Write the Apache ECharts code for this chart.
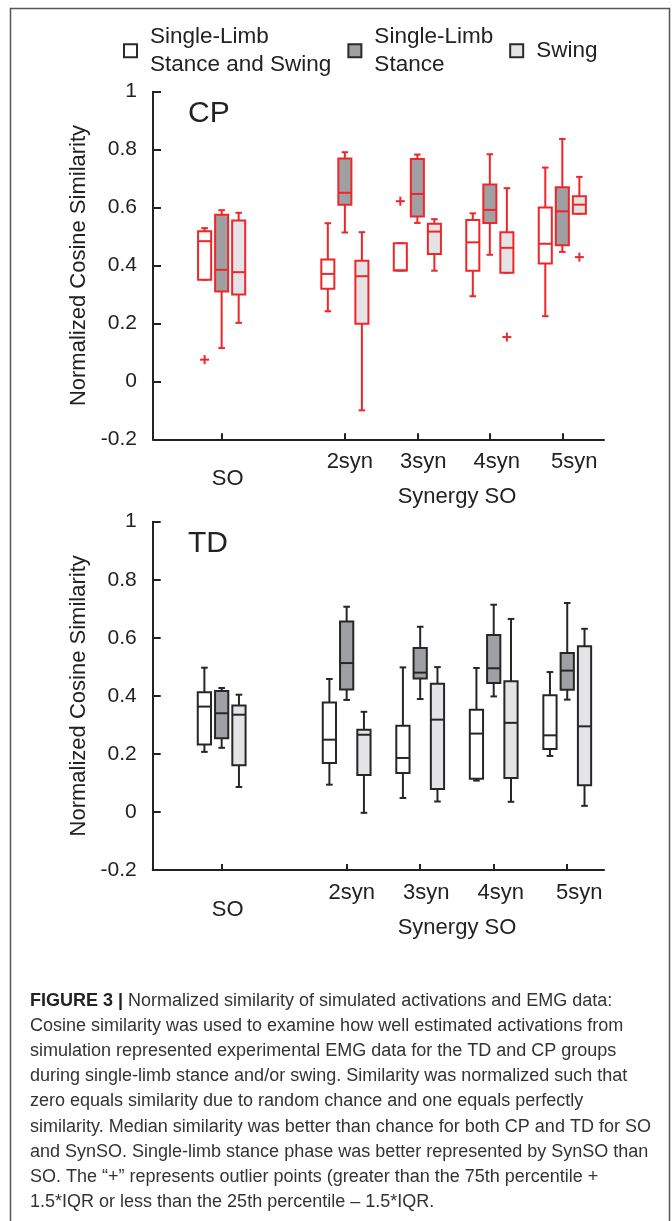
<!DOCTYPE html>
<html>
<head>
<meta charset="utf-8">
<script src="https://cdn.jsdelivr.net/npm/echarts@6.0.0/dist/echarts.min.js"></script>
<style>
  html, body { margin: 0; padding: 0; background: #fff; }
  #chart { width: 672px; height: 1221px; }
</style>
</head>
<body>
<div id="chart"></div>
<script>
// groups on the x axis and where they sit
const groups = ['SO', '2syn', '3syn', '4syn', '5syn'];
const groupPos = [1, 2.7, 3.7, 4.7, 5.7];
const phases = ['Single-Limb\nStance and Swing', 'Single-Limb\nStance', 'Swing'];

// each row: [lower whisker, Q1, median, Q3, upper whisker]
const cpStanceSwing = [
  [0.351, 0.351, 0.484, 0.518, 0.529],
  [0.242, 0.320, 0.371, 0.421, 0.546],
  [0.383, 0.383, 0.383, 0.477, 0.477],
  [0.294, 0.382, 0.480, 0.557, 0.580],
  [0.225, 0.407, 0.475, 0.600, 0.738]
];
const cpStance = [
  [0.115, 0.310, 0.385, 0.575, 0.591],
  [0.514, 0.610, 0.651, 0.769, 0.791],
  [0.547, 0.569, 0.647, 0.768, 0.783],
  [0.437, 0.547, 0.592, 0.680, 0.784],
  [0.447, 0.470, 0.587, 0.670, 0.837]
];
const cpSwing = [
  [0.202, 0.300, 0.377, 0.555, 0.582],
  [-0.100, 0.199, 0.363, 0.416, 0.515],
  [0.382, 0.440, 0.517, 0.544, 0.560],
  [0.375, 0.375, 0.461, 0.515, 0.667],
  [0.579, 0.579, 0.610, 0.639, 0.706]
];
// outliers: [group index, phase index, value]
const cpOutliers = [[0, 0, 0.075], [2, 0, 0.622], [3, 2, 0.153], [4, 2, 0.429]];

const tdStanceSwing = [
  [0.207, 0.232, 0.363, 0.412, 0.497],
  [0.094, 0.169, 0.249, 0.377, 0.458],
  [0.048, 0.134, 0.186, 0.297, 0.498],
  [0.108, 0.114, 0.270, 0.352, 0.496],
  [0.193, 0.217, 0.264, 0.402, 0.482]
];
const tdStance = [
  [0.221, 0.254, 0.340, 0.417, 0.427],
  [0.386, 0.422, 0.513, 0.656, 0.707],
  [0.389, 0.460, 0.480, 0.565, 0.638],
  [0.398, 0.444, 0.495, 0.610, 0.714],
  [0.387, 0.421, 0.487, 0.548, 0.720]
];
const tdSwing = [
  [0.086, 0.161, 0.335, 0.367, 0.404],
  [-0.003, 0.127, 0.266, 0.283, 0.345],
  [0.036, 0.079, 0.318, 0.442, 0.499],
  [0.035, 0.117, 0.307, 0.450, 0.665],
  [0.021, 0.092, 0.295, 0.571, 0.631]
];
const tdOutliers = [];

const captionLines = [
  '{b|FIGURE 3 |} Normalized similarity of simulated activations and EMG data:',
  'Cosine similarity was used to examine how well estimated activations from',
  'simulation represented experimental EMG data for the TD and CP groups',
  'during single-limb stance and/or swing. Similarity was normalized such that',
  'zero equals similarity due to random chance and one equals perfectly',
  'similarity. Median similarity was better than chance for both CP and TD for SO',
  'and SynSO. Single-limb stance phase was better represented by SynSO than',
  'SO. The \u201c+\u201d represents outlier points (greater than the 75th percentile +',
  '1.5*IQR or less than the 25th percentile \u2013 1.5*IQR.'
];

// look
const FONT = '"Liberation Sans", Arial, Helvetica, sans-serif';
const INK = '#222';
const panelStroke = ['#ee2629', '#262626'];
const phaseFill = ['#ffffff', '#9ea0a4', '#e4e4e6'];
const phaseOffset = [-0.235, 0, 0.235];
const BOX_HALF = 0.09;
const CAP_HALF = 0.045;
const labelShift = [6, 5, 6, 7, 12];

const chart = echarts.init(document.getElementById('chart'));

const makeBoxRenderer = (stroke, fill) => (params, api) => {
  const x = api.value(0);
  const lo = api.coord([x, api.value(1)]);
  const q1 = api.coord([x, api.value(2)]);
  const md = api.coord([x, api.value(3)]);
  const q3 = api.coord([x, api.value(4)]);
  const hi = api.coord([x, api.value(5)]);
  const left = api.coord([x - BOX_HALF, 0])[0];
  const right = api.coord([x + BOX_HALF, 0])[0];
  const capL = api.coord([x - CAP_HALF, 0])[0];
  const capR = api.coord([x + CAP_HALF, 0])[0];
  const ls = { stroke, lineWidth: 2, fill: null };
  return {
    type: 'group',
    children: [
      { type: 'line', shape: { x1: lo[0], y1: lo[1], x2: q1[0], y2: q1[1] }, style: ls },
      { type: 'line', shape: { x1: q3[0], y1: q3[1], x2: hi[0], y2: hi[1] }, style: ls },
      { type: 'line', shape: { x1: capL, y1: lo[1], x2: capR, y2: lo[1] }, style: ls },
      { type: 'line', shape: { x1: capL, y1: hi[1], x2: capR, y2: hi[1] }, style: ls },
      { type: 'rect', shape: { x: left, y: q3[1], width: right - left, height: q1[1] - q3[1] },
        style: { stroke, lineWidth: 2, fill } },
      { type: 'line', shape: { x1: left, y1: md[1], x2: right, y2: md[1] }, style: ls }
    ]
  };
};

const makePlusRenderer = (stroke) => (params, api) => {
  const p = api.coord([api.value(0), api.value(1)]);
  const r = 4.5;
  const ls = { stroke, lineWidth: 2 };
  return {
    type: 'group',
    children: [
      { type: 'line', shape: { x1: p[0] - r, y1: p[1], x2: p[0] + r, y2: p[1] }, style: ls },
      { type: 'line', shape: { x1: p[0], y1: p[1] - r, x2: p[0], y2: p[1] + r }, style: ls }
    ]
  };
};

const boxSeries = (panel, rows, phase) => ({
  type: 'custom',
  name: phases[phase],
  xAxisIndex: panel,
  yAxisIndex: panel,
  renderItem: makeBoxRenderer(panelStroke[panel], phaseFill[phase]),
  encode: { x: 0, y: [1, 2, 3, 4, 5] },
  itemStyle: { color: phaseFill[phase] },
  data: rows.map((r, i) => [groupPos[i] + phaseOffset[phase]].concat(r)),
  z: 3
});

const outlierSeries = (panel, list) => ({
  type: 'custom',
  xAxisIndex: panel,
  yAxisIndex: panel,
  renderItem: makePlusRenderer(panelStroke[panel]),
  encode: { x: 0, y: 1 },
  data: list.map(o => [groupPos[o[0]] + phaseOffset[o[1]], o[2]]),
  z: 4
});

const xAxisFor = (grid, min, max) => ({
  type: 'value',
  gridIndex: grid,
  min, max,
  splitLine: { show: false },
  axisLine: { onZero: false, lineStyle: { color: INK, width: 2 } },
  axisTick: { inside: true, length: 6, customValues: groupPos, lineStyle: { color: INK, width: 2 } },
  axisLabel: {
    customValues: groupPos,
    margin: 12,
    color: INK,
    fontFamily: FONT,
    fontSize: 22,
    formatter: (v) => {
      const i = groupPos.findIndex(p => Math.abs(p - v) < 1e-6);
      return i < 0 ? '' : `{g${i}|${groups[i]}}`;
    },
    rich: Object.fromEntries(groups.map((g, i) => [`g${i}`, {
      fontFamily: FONT, fontSize: 22, color: INK,
      padding: [i === 0 ? 17 : 0, 0, 0, labelShift[i] * 2]
    }]))
  }
});

const yAxisFor = (grid) => ({
  type: 'value',
  gridIndex: grid,
  min: -0.2, max: 1, interval: 0.2,
  splitLine: { show: false },
  name: 'Normalized Cosine Similarity',
  nameLocation: 'middle',
  nameGap: 61,
  nameTextStyle: { fontFamily: FONT, fontSize: 22, color: INK },
  axisLine: { onZero: false, lineStyle: { color: INK, width: 2 } },
  axisTick: { inside: true, length: 8, lineStyle: { color: INK, width: 2 } },
  axisLabel: {
    margin: 16, color: INK, fontFamily: FONT, fontSize: 21,
    formatter: (v) => String(+v.toFixed(1))
  }
});

const legendData = phases.map((p, i) => ({
  name: p,
  icon: 'rect',
  itemStyle: { color: phaseFill[i], borderColor: '#2a2a2a', borderWidth: 2 }
}));

chart.setOption({
  animation: false,
  backgroundColor: '#fff',
  textStyle: { fontFamily: FONT },
  legend: {
    data: legendData,
    left: 123,
    top: 22,
    padding: 0,
    itemWidth: 13,
    itemHeight: 13,
    itemGap: 16,
    selectedMode: false,
    textStyle: { fontFamily: FONT, fontSize: 22.5, lineHeight: 28.7, color: INK, padding: [0, 0, 0, 8] }
  },
  grid: [
    { left: 153, top: 91.7, width: 451, height: 347.6, outerBoundsMode: 'none' },
    { left: 152.7, top: 521.7, width: 451.3, height: 348.3, outerBoundsMode: 'none' }
  ],
  xAxis: [xAxisFor(0, 0.053, 6.275), xAxisFor(1, 0.062, 6.2)],
  yAxis: [yAxisFor(0), yAxisFor(1)],
  series: [
    boxSeries(0, cpStanceSwing, 0),
    boxSeries(0, cpStance, 1),
    boxSeries(0, cpSwing, 2),
    outlierSeries(0, cpOutliers),
    boxSeries(1, tdStanceSwing, 0),
    boxSeries(1, tdStance, 1),
    boxSeries(1, tdSwing, 2),
    outlierSeries(1, tdOutliers)
  ],
  graphic: [
    { type: 'rect', shape: { x: 10.5, y: 8.5, width: 659, height: 1240 },
      style: { fill: null, stroke: '#555', lineWidth: 1.5 }, silent: true },
    { type: 'text', x: 188, y: 114, style: { text: 'CP', font: `30px ${FONT}`, fill: INK, verticalAlign: 'middle' } },
    { type: 'text', x: 188, y: 544, style: { text: 'TD', font: `30px ${FONT}`, fill: INK, verticalAlign: 'middle' } },
    { type: 'text', x: 457, y: 497, style: { text: 'Synergy SO', font: `22px ${FONT}`, fill: INK, align: 'center', verticalAlign: 'middle' } },
    { type: 'text', x: 457, y: 928, style: { text: 'Synergy SO', font: `22px ${FONT}`, fill: INK, align: 'center', verticalAlign: 'middle' } },
    { type: 'text', x: 30, y: 988,
      style: {
        text: captionLines.join('\n'),
        fontFamily: FONT, fontSize: 18, lineHeight: 25.2, fill: '#333',
        rich: { b: { fontFamily: FONT, fontSize: 18, lineHeight: 25.2, fontWeight: 'bold', fill: '#222' } }
      } }
  ]
});
</script>
</body>
</html>
